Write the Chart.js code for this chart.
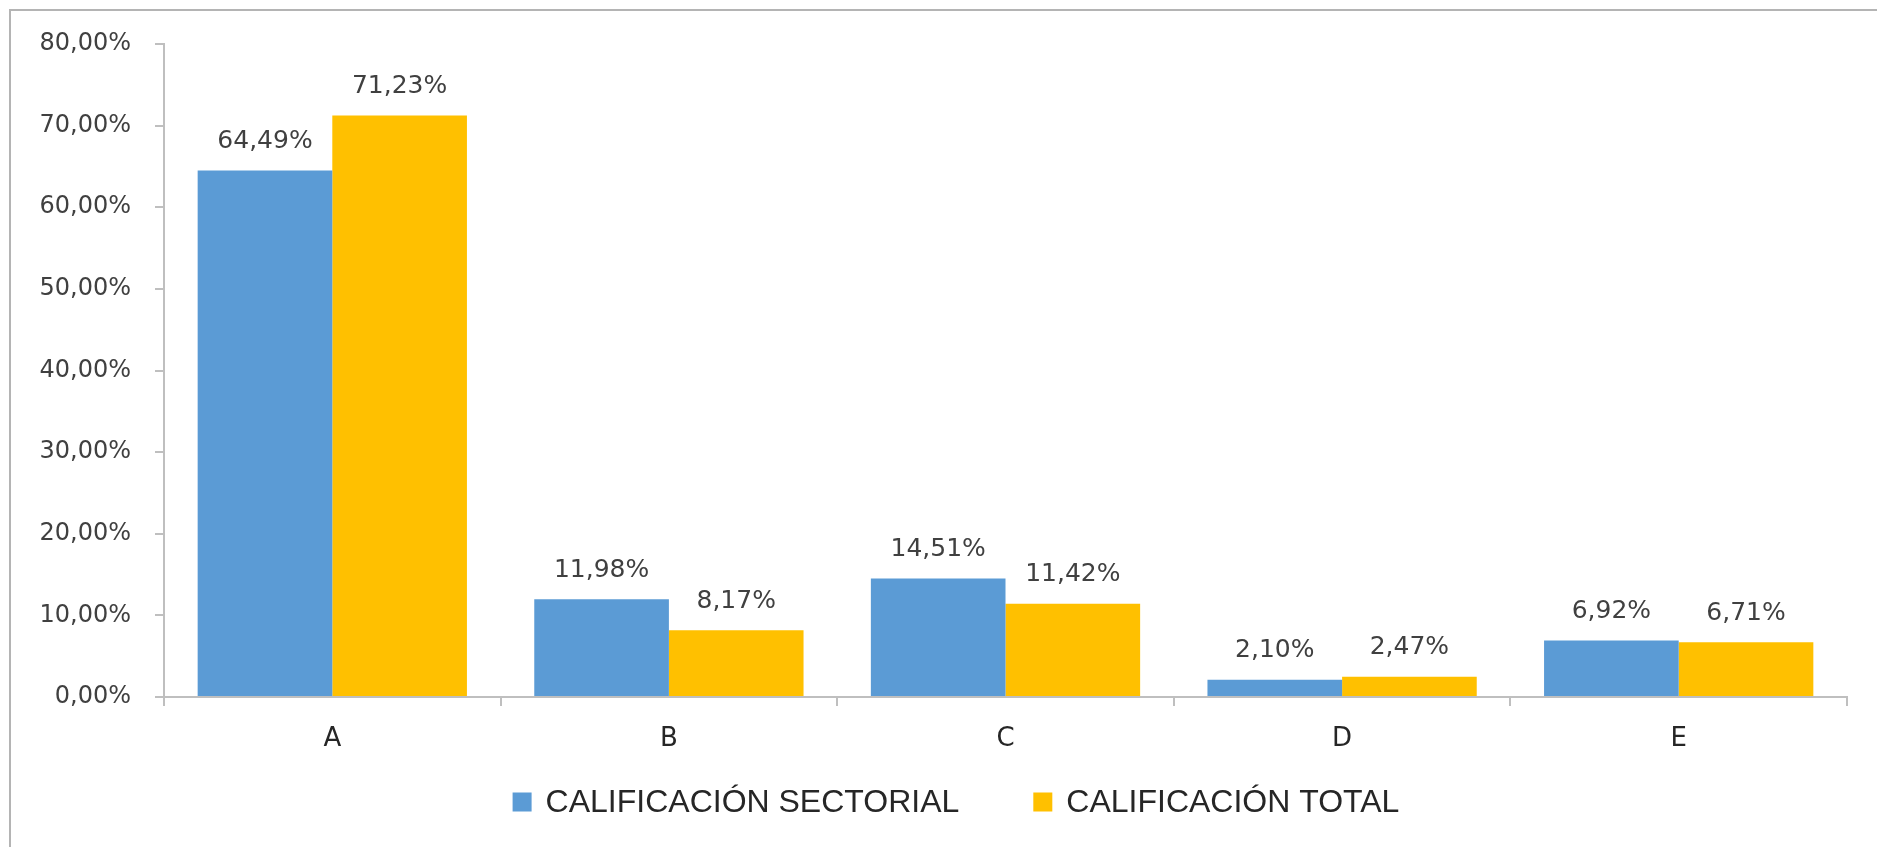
<!DOCTYPE html>
<html>
<head>
<meta charset="utf-8">
<script src="https://cdn.jsdelivr.net/npm/chart.js@4.4.1/dist/chart.umd.min.js"></script>
<style>
    html, body { margin: 0; padding: 0; background: #fff; overflow: hidden; }
    #frame { position: absolute; left: 9px; top: 9px; width: 1920px; height: 900px; border: 2px solid #b4b4b4; }
    #wrap { position: absolute; left: 0; top: 0; width: 1877px; height: 847px; }
</style>
</head>
<body>
<div id="frame"></div>
<div id="wrap"><canvas id="chart"></canvas></div>
<script>
var categories = ['A', 'B', 'C', 'D', 'E'];
var sectorial = [64.49, 11.98, 14.51, 2.10, 6.92];
var total = [71.23, 8.17, 11.42, 2.47, 6.71];
var seriesNames = ['CALIFICACIÓN SECTORIAL', 'CALIFICACIÓN TOTAL'];
var seriesColors = ['#5b9bd5', '#ffc000'];
var yTicks = [0, 10, 20, 30, 40, 50, 60, 70, 80];

function pct(v) {
    return v.toFixed(2).replace('.', ',') + '%';
}

// labels above each bar
var barLabels = {
    id: 'barLabels',
    afterDatasetsDraw: function(chart) {
        var ctx = chart.ctx;
        ctx.save();
        ctx.font = '25px "DejaVu Sans"';
        ctx.fillStyle = '#404040';
        ctx.textAlign = 'center';
        ctx.textBaseline = 'middle';
        chart.data.datasets.forEach(function(ds, i) {
            chart.getDatasetMeta(i).data.forEach(function(bar, j) {
                ctx.fillText(pct(ds.data[j]), bar.x, bar.y - 29);
            });
        });
        ctx.restore();
    }
};

// legend drawn by hand, Excel-style spacing
var bottomLegend = {
    id: 'bottomLegend',
    afterDraw: function(chart) {
        var ctx = chart.ctx;
        var box = 19, textGap = 14, itemGap = 74;
        var cx = 956, cy = 802;
        ctx.save();
        ctx.font = '32px "Liberation Sans", Arial';
        ctx.textBaseline = 'middle';
        ctx.textAlign = 'left';
        var items = chart.data.datasets.map(function(ds) {
            return { text: ds.label, color: ds.backgroundColor, w: ctx.measureText(ds.label).width };
        });
        var totalW = items.reduce(function(s, it) { return s + box + textGap + it.w; }, 0) + itemGap * (items.length - 1);
        var x = cx - totalW / 2;
        items.forEach(function(it) {
            ctx.fillStyle = it.color;
            ctx.fillRect(x, cy - box / 2, box, box);
            ctx.fillStyle = '#262626';
            ctx.fillText(it.text, x + box + textGap, cy + 1);
            x += box + textGap + it.w + itemGap;
        });
        ctx.restore();
    }
};

new Chart(document.getElementById('chart').getContext('2d'), {
    type: 'bar',
    data: {
        labels: categories,
        datasets: [
            { label: seriesNames[0], data: sectorial, backgroundColor: seriesColors[0], categoryPercentage: 0.8, barPercentage: 1.0 },
            { label: seriesNames[1], data: total, backgroundColor: seriesColors[1], categoryPercentage: 0.8, barPercentage: 1.0 }
        ]
    },
    options: {
        responsive: true,
        maintainAspectRatio: false,
        animation: false,
        layout: { padding: { left: 0, right: 30, top: 44, bottom: 0 } },
        plugins: {
            tooltip: { enabled: false },
            legend: { display: false }
        },
        scales: {
            x: {
                grid: { drawOnChartArea: false, color: '#bfbfbf', lineWidth: 2, tickLength: 9 },
                border: { color: '#bfbfbf', width: 2 },
                ticks: { font: { family: '"DejaVu Sans"', size: 26 }, color: '#262626', padding: 18 },
                afterFit: function(scale) { scale.height = 150; }
            },
            y: {
                min: 0,
                max: 80,
                afterBuildTicks: function(scale) {
                    scale.ticks = yTicks.map(function(v) { return { value: v }; });
                },
                grid: { drawOnChartArea: false, color: '#bfbfbf', lineWidth: 2, tickLength: 9 },
                border: { color: '#bfbfbf', width: 2 },
                ticks: {
                    font: { family: '"DejaVu Sans"', size: 24 },
                    color: '#404040',
                    padding: 24,
                    callback: function(v) { return pct(v); }
                },
                afterFit: function(scale) { scale.width = 164; }
            }
        }
    },
    plugins: [barLabels, bottomLegend]
});
</script>
</body>
</html>
